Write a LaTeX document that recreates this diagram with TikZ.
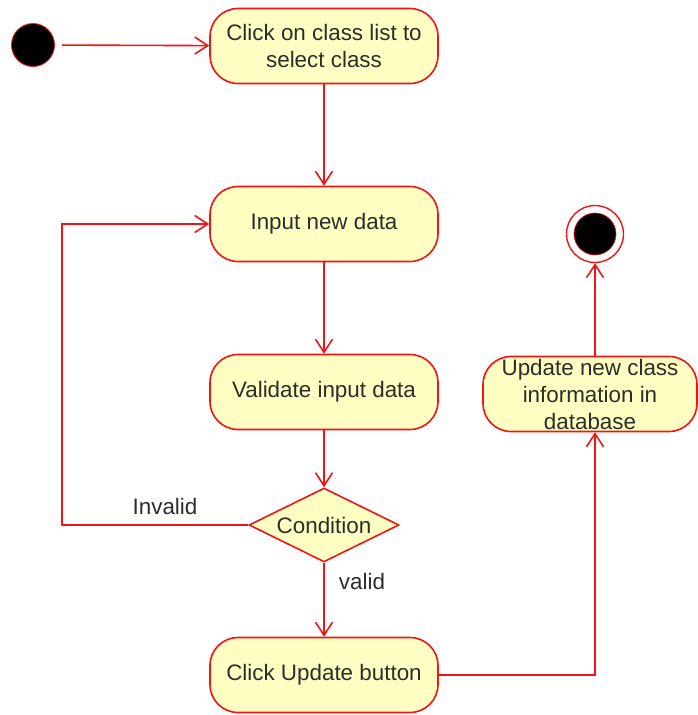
\documentclass[tikz,border=0pt]{standalone}
\usepackage{fontspec}
\setmainfont{Liberation Sans}
\usetikzlibrary{arrows.meta,shapes.geometric}
\definecolor{actfill}{RGB}{255,255,196}
\definecolor{actline}{RGB}{240,20,20}
\definecolor{acttext}{RGB}{45,45,40}
\begin{document}
\begin{tikzpicture}[x=1pt,y=-1pt,
  every node/.style={text=acttext,font=\fontsize{22.4}{27}\selectfont},
  actbox/.style={draw=actline,fill=actfill,line width=1.6pt,rounded corners=28pt,
    minimum width=228pt,minimum height=75pt,inner sep=0pt,align=center},
  decision/.style={diamond,draw=actline,fill=actfill,line width=1.6pt,aspect=2,
    inner sep=0pt,minimum width=150pt,minimum height=74pt},
  flow/.style={draw=actline,line width=1.6pt,-{Straight Barb[length=13pt,width=17pt,line width=1.6pt]}},
  initnode/.style={circle,fill=black,draw=actline,line width=0.8pt,minimum size=43pt,inner sep=0pt},
  finalring/.style={circle,fill=white,draw=actline,line width=1.4pt,minimum size=57pt,inner sep=0pt},
  finaldot/.style={circle,fill=black,draw=actline,line width=0.6pt,minimum size=42pt,inner sep=0pt},
  guard/.style={inner sep=0pt}]
\useasboundingbox (0,0) rectangle (698,715);

% initial and final states
\node[initnode] (start) at (33,45) {};
\node[finalring] (fin) at (595,234) {};
\node[finaldot] (findot) at (fin) {};

% actions
\node[actbox] (select) at (324,46) {Click on class list to\\select class};
\node[actbox] (input) at (324,224) {Input new data};
\node[actbox] (valid) at (324,392) {Validate input data};
\node[decision] (cond) at (324,525) {Condition};
\node[actbox] (btn) at (324,675) {Click Update button};
\node[actbox,minimum width=214pt] (upd) at (590,394) {};
\node[align=center,inner sep=0pt] (updtext) at (590,394)
  {\fontsize{22.4}{26.5}\selectfont Update new class\\information in\\database};

% guard labels
\node[guard] (lblinv) at (165,506) {Invalid};
\node[guard] (lblval) at (362,581) {valid};

% control flow
\coordinate (loopx) at (62,0);
\path[flow,shorten <=7pt] (start) -- (select);
\path[flow] (select) -- (input);
\path[flow] (input) -- (valid);
\path[flow] (valid) -- (cond);
\path[flow] (cond) -- (btn);
\path[flow] (cond.west) -| (loopx |- input.west) -- (input.west);
\path[flow] (btn.east) -| (fin |- upd.south);
\path[flow] (fin |- upd.north) -- (fin);
\end{tikzpicture}
\end{document}
